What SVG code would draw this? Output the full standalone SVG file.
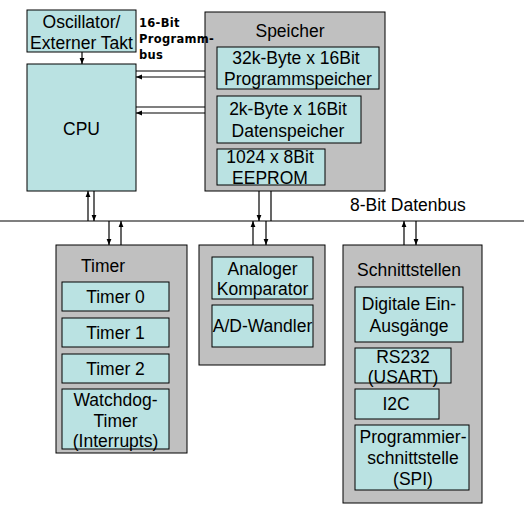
<svg xmlns="http://www.w3.org/2000/svg" width="531" height="506" viewBox="0 0 531 506">
<style>
.bg{fill:#ffffff}
.grp{fill:#c0c0c0;stroke:#000;stroke-width:1}
.box{fill:#bae2e2;stroke:#000;stroke-width:1}
.t{font-family:"Liberation Sans",Arial,sans-serif;font-size:17.5px;fill:#000;text-anchor:middle}
.tl{font-family:"Liberation Sans",Arial,sans-serif;font-size:17.5px;fill:#000}
.b{font-family:"DejaVu Sans",Verdana,sans-serif;font-size:11.5px;font-weight:bold;fill:#000;letter-spacing:0.3px}
.ln{stroke:#000;stroke-width:1.2;fill:none}
</style>
<defs>
<marker id="ah" viewBox="0 0 10 10" refX="10" refY="5" markerWidth="6" markerHeight="6" orient="auto" markerUnits="userSpaceOnUse">
<path d="M0,1 L10,5 L0,9 z" fill="#000"/>
</marker>
</defs>
<rect class="bg" x="0" y="0" width="531" height="506"/>

<g id="connectors">
<line class="ln" x1="0" y1="221" x2="524" y2="221"/>
<line class="ln" x1="82" y1="52" x2="82" y2="64" marker-end="url(#ah)"/>
<line class="ln" x1="136" y1="71" x2="217" y2="71" marker-end="url(#ah)"/>
<line class="ln" x1="217" y1="77" x2="136" y2="77" marker-end="url(#ah)"/>
<line class="ln" x1="136" y1="107" x2="217" y2="107" marker-end="url(#ah)"/>
<line class="ln" x1="217" y1="113" x2="136" y2="113" marker-end="url(#ah)"/>
<line class="ln" x1="88" y1="221" x2="88" y2="191" marker-end="url(#ah)"/>
<line class="ln" x1="94" y1="191" x2="94" y2="221" marker-end="url(#ah)"/>
<line class="ln" x1="259" y1="185" x2="259" y2="221" marker-end="url(#ah)"/>
<line class="ln" x1="271" y1="221" x2="271" y2="185" marker-end="url(#ah)"/>
<line class="ln" x1="109" y1="221" x2="109" y2="245" marker-end="url(#ah)"/>
<line class="ln" x1="121" y1="245" x2="121" y2="221" marker-end="url(#ah)"/>
<line class="ln" x1="253" y1="245" x2="253" y2="221" marker-end="url(#ah)"/>
<line class="ln" x1="266" y1="221" x2="266" y2="245" marker-end="url(#ah)"/>
<line class="ln" x1="404" y1="245" x2="404" y2="221" marker-end="url(#ah)"/>
<line class="ln" x1="416" y1="221" x2="416" y2="245" marker-end="url(#ah)"/>
</g>

<g id="bus-label">
<text class="tl" x="350" y="211">8-Bit Datenbus</text>
</g>

<g id="oscillator">
<rect class="box" x="27" y="10" width="109" height="42"/>
<text class="t" x="81.5" y="28">Oscillator/</text>
<text class="t" x="81.5" y="49">Externer Takt</text>
</g>

<g id="cpu">
<rect class="box" x="27" y="64" width="109" height="127"/>
<text class="t" x="81.5" y="135">CPU</text>
</g>

<g id="speicher">
<rect class="grp" x="205" y="12" width="180" height="179"/>
<text class="t" x="290" y="37">Speicher</text>
</g>
<g id="programmspeicher">
<rect class="box" x="217" y="47" width="162" height="42"/>
<text class="t" x="296" y="64">32k-Byte x 16Bit</text>
<text class="t" x="298" y="85">Programmspeicher</text>
</g>
<g id="datenspeicher">
<rect class="box" x="217" y="96" width="144" height="47"/>
<text class="t" x="288" y="115">2k-Byte x 16Bit</text>
<text class="t" x="288" y="137">Datenspeicher</text>
</g>
<g id="eeprom">
<rect class="box" x="217" y="149" width="108" height="36"/>
<text class="t" x="270" y="163">1024 x 8Bit</text>
<text class="t" x="270" y="184">EEPROM</text>
</g>

<g id="progbus-label">
<text class="b" x="139" y="27">16-Bit</text>
<text class="b" x="139" y="43">Programm-</text>
<text class="b" x="139" y="59">bus</text>
</g>

<g id="timer">
<rect class="grp" x="56" y="245" width="131" height="208"/>
<text class="tl" x="81" y="272">Timer</text>
</g>
<g id="timer0">
<rect class="box" x="62" y="282" width="107" height="29"/>
<text class="t" x="115.5" y="303">Timer 0</text>
</g>
<g id="timer1">
<rect class="box" x="62" y="318" width="107" height="29"/>
<text class="t" x="115.5" y="339">Timer 1</text>
</g>
<g id="timer2">
<rect class="box" x="62" y="354" width="107" height="29"/>
<text class="t" x="115.5" y="375">Timer 2</text>
</g>
<g id="watchdog">
<rect class="box" x="62" y="389" width="107" height="60"/>
<text class="t" x="115.5" y="406">Watchdog-</text>
<text class="t" x="115.5" y="427">Timer</text>
<text class="t" x="115.5" y="447">(Interrupts)</text>
</g>

<g id="analog">
<rect class="grp" x="199" y="245" width="126" height="120"/>
</g>
<g id="komparator">
<rect class="box" x="212" y="257" width="101" height="42"/>
<text class="t" x="262.5" y="275">Analoger</text>
<text class="t" x="262.5" y="295">Komparator</text>
</g>
<g id="adwandler">
<rect class="box" x="212" y="305" width="101" height="42"/>
<text class="t" x="262.5" y="332">A/D-Wandler</text>
</g>

<g id="schnittstellen">
<rect class="grp" x="343" y="245" width="139" height="258"/>
<text class="tl" x="357" y="276">Schnittstellen</text>
</g>
<g id="digital">
<rect class="box" x="355" y="287" width="108" height="55"/>
<text class="t" x="409" y="310">Digitale Ein-</text>
<text class="t" x="409" y="332">Ausgänge</text>
</g>
<g id="rs232">
<rect class="box" x="355" y="348" width="96" height="35"/>
<text class="t" x="403" y="363">RS232</text>
<text class="t" x="403" y="383">(USART)</text>
</g>
<g id="i2c">
<rect class="box" x="355" y="389" width="84" height="30"/>
<text class="t" x="396" y="410">I2C</text>
</g>
<g id="spi">
<rect class="box" x="355" y="425" width="114" height="65"/>
<text class="t" x="413" y="443">Programmier-</text>
<text class="t" x="413" y="464">schnittstelle</text>
<text class="t" x="413" y="485">(SPI)</text>
</g>
</svg>
